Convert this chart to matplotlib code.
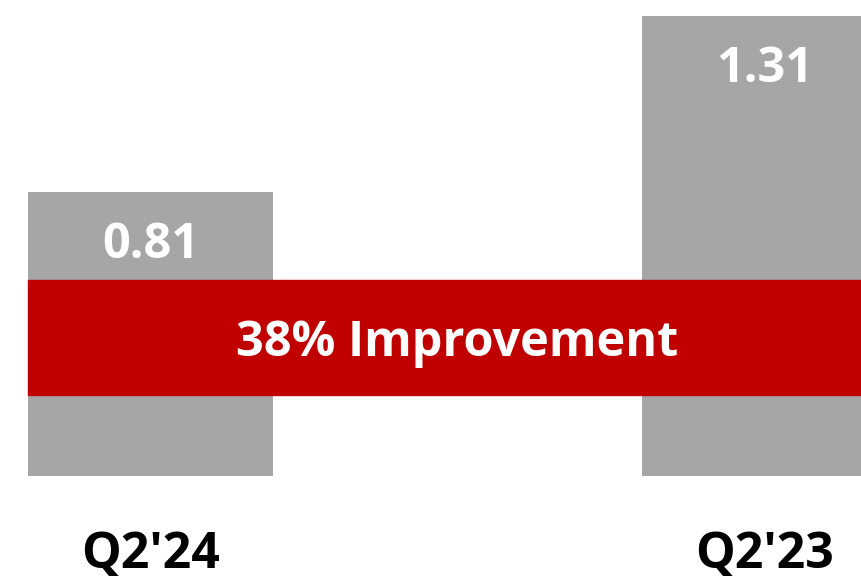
import matplotlib
matplotlib.use("Agg")
import matplotlib.pyplot as plt

# data
categories = ["Q2'24", "Q2'23"]
values = [0.81, 1.31]
value_labels = ["0.81", "1.31"]
banner_text = "38% Improvement"

GRAY = "#A6A6A6"
RED = "#C00000"
FONT = "Open Sans"

fig = plt.figure(figsize=(8.61, 5.81), dpi=100)
ax = fig.add_axes([0, 0, 1, 1])
ax.set_xlim(-0.2451, 1.157)
ax.set_ylim(-0.299, 1.356)
ax.axis("off")

x = range(len(categories))
ax.bar(x, values, width=0.399, color=GRAY, zorder=1)

# red banner across the bars
ax.axhspan(0.231, 0.558, xmin=0.0325, xmax=1.0, color=RED, zorder=2)
ax.text(0.5, 0.378, banner_text, color="white", fontsize=35, fontweight="bold",
        family=FONT, ha="center", va="center", zorder=3)

for xi, v, lab in zip(x, values, value_labels):
    ax.text(xi, v - 0.083, lab, color="white", fontsize=35, fontweight="bold",
            family=FONT, ha="center", va="top", zorder=3)

for xi, cat in zip(x, categories):
    ax.text(xi, -0.225, cat, color="black", fontsize=36, fontweight="bold",
            family=FONT, ha="center", va="center")

fig.savefig("out.png", dpi=100)
